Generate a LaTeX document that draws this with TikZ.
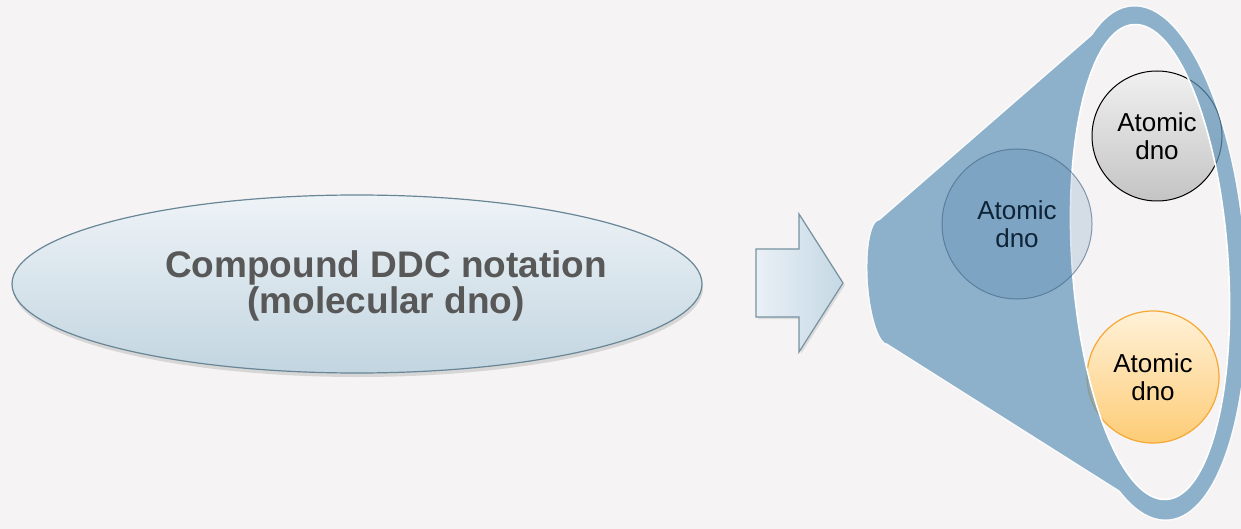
\documentclass[tikz,border=0pt]{standalone}
\usepackage{fontspec}
\setmainfont{Liberation Sans}
\usetikzlibrary{shapes.geometric}
\usetikzlibrary{shadows}
\definecolor{pagebg}{RGB}{245,243,243}
\definecolor{ovaltop}{RGB}{238,243,247}
\definecolor{ovalbot}{RGB}{194,213,224}
\definecolor{ovalline}{RGB}{104,134,150}
\definecolor{ovaltext}{RGB}{88,88,88}
\definecolor{arrowleft}{RGB}{234,240,246}
\definecolor{arrowright}{RGB}{196,216,228}
\definecolor{funnelblue}{RGB}{99,150,187}
\definecolor{dnoblue}{RGB}{30,90,150}
\definecolor{dnoblueline}{RGB}{60,100,130}
\definecolor{dnobluetext}{RGB}{15,35,55}
\definecolor{dnograytop}{RGB}{240,240,240}
\definecolor{dnograybot}{RGB}{196,196,196}
\definecolor{dnoorangetop}{RGB}{255,241,216}
\definecolor{dnoorangebot}{RGB}{253,204,118}
\definecolor{dnoorangeline}{RGB}{246,168,52}
\tikzstyle{oval}=[ellipse,draw=ovalline,line width=1.2pt,top color=ovaltop,bottom color=ovalbot,minimum width=690pt,minimum height=178pt,drop shadow={opacity=0.25,shadow xshift=1pt,shadow yshift=-4pt}]
\tikzstyle{ovallabel}=[text=ovaltext,font=\fontsize{37}{33}\selectfont\bfseries,align=center]
\tikzstyle{atom}=[circle,inner sep=0pt,align=center,font=\fontsize{26}{28}\selectfont]
\tikzstyle{funnelline}=[white,line width=3pt]

\begin{document}
\begin{tikzpicture}[x=1pt,y=-1pt]
    \useasboundingbox (0,0) rectangle (1241,529);
    \fill[pagebg] (0,0) rectangle (1241,529);

    \node[oval] (compound) at (357,284) {};
    \node[ovallabel] (compoundlabel) at ([xshift=29pt,yshift=-2pt]compound.center) {Compound DDC notation\\(molecular dno)};

    \draw[draw=ovalline!90,line width=1.2pt,left color=arrowleft,right color=arrowright,drop shadow={opacity=0.2,shadow xshift=2pt,shadow yshift=-2pt}]
      (756,249) -- (799,249) -- (799,214) -- (843,283) -- (799,352) -- (799,317) -- (756,317) -- cycle;

    % atoms behind the funnel
    \node[atom,minimum size=130pt,draw=black,line width=1pt,top color=dnograytop,bottom color=dnograybot] (grayatom) at (1157,136) {Atomic\\dno};
    \node[atom,minimum size=132pt,draw=dnoorangeline,line width=1.2pt,top color=dnoorangetop,bottom color=dnoorangebot] (orangeatom) at (1153,377) {Atomic\\dno};

    \begin{scope}[transparency group,opacity=0.7,even odd rule]
      \clip[rotate around={4:(1150,262)}] (1150,262) ellipse [x radius=78,y radius=238] (-300,-300) rectangle (1700,900);
      \draw[funnelline,rotate around={4:(884,282)}] (884,282) ellipse [x radius=16,y radius=62];
      \draw[funnelline] (880,220) -- (1118,13) -- (1160,516) -- (888,344) -- cycle;
      \draw[funnelline,rotate around={4:(1150,263)}] (1150,263) ellipse [x radius=95,y radius=257];
      \fill[funnelblue,rotate around={4:(884,282)}] (884,282) ellipse [x radius=16,y radius=62];
      \fill[funnelblue] (880,220) -- (1118,13) -- (1160,516) -- (888,344) -- cycle;
      \fill[funnelblue,rotate around={4:(1150,263)}] (1150,263) ellipse [x radius=95,y radius=257];
    \end{scope}
    \draw[white,line width=1.6pt,rotate around={4:(1150,262)}] (1150,262) ellipse [x radius=78,y radius=238];

    \node[atom,minimum size=150pt,fill=dnoblue,fill opacity=0.15,text opacity=1,draw=dnoblueline,draw opacity=0.6,line width=1pt,text=dnobluetext] (blueatom) at (1017,224) {Atomic\\dno};
\end{tikzpicture}
\end{document}
